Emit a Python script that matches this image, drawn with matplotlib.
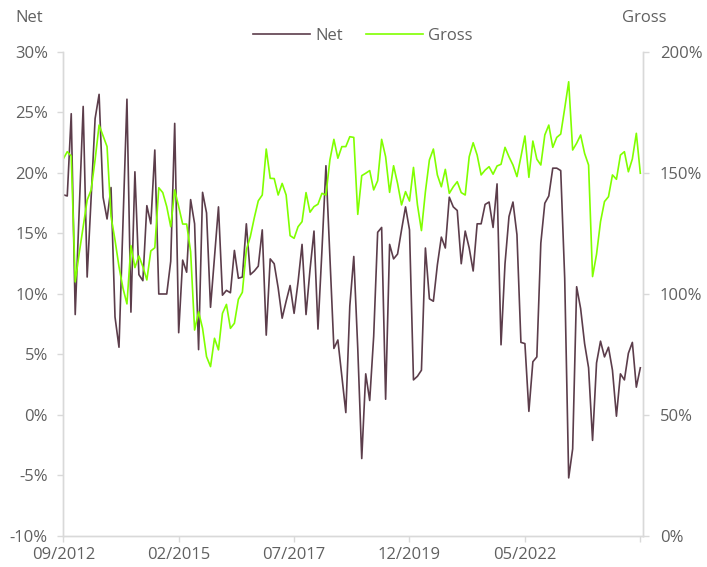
import matplotlib
matplotlib.use("Agg")
import matplotlib.pyplot as plt
from matplotlib.ticker import FuncFormatter, MultipleLocator
import numpy as np
import pandas as pd

# monthly data, 09/2012 - 10/2024
dates = pd.date_range("2012-09-01", periods=146, freq="MS")

net = [18.2, 18.1, 24.9, 8.3, 16.9, 25.5, 11.4, 18.0, 24.5, 26.5,
       18.0, 16.2, 18.8, 8.1, 5.6, 15.8, 26.1, 8.5, 20.1, 11.6,
       11.1, 17.3, 15.8, 21.9, 10.0, 10.0, 10.0, 12.7, 24.1, 6.8,
       12.8, 11.8, 17.8, 15.8, 5.4, 18.4, 16.7, 8.9, 13.0, 17.2,
       9.9, 10.3, 10.1, 13.6, 11.3, 11.4, 15.8, 11.6, 11.9, 12.3,
       15.3, 6.6, 12.9, 12.5, 10.5, 8.0, 9.4, 10.7, 8.4, 11.0,
       14.1, 8.3, 12.0, 15.2, 7.1, 13.6, 20.6, 13.0, 5.5, 6.2,
       3.2, 0.2, 9.0, 13.1, 5.5, -3.6, 3.4, 1.2, 6.5, 15.1,
       15.5, 1.3, 14.1, 12.9, 13.3, 15.3, 17.2, 15.3, 2.9, 3.2,
       3.7, 13.8, 9.6, 9.4, 12.4, 14.7, 13.8, 18.0, 17.2, 16.9,
       12.5, 15.2, 13.8, 11.9, 15.8, 15.8, 17.4, 17.6, 15.5, 19.1,
       5.8, 12.5, 16.4, 17.6, 14.9, 6.0, 5.9, 0.3, 4.4, 4.8,
       14.2, 17.5, 18.1, 20.4, 20.4, 20.2, 11.3, -5.2, -2.8, 10.6,
       8.8, 5.9, 3.9, -2.1, 4.3, 6.1, 4.8, 5.6, 3.7, -0.1,
       3.4, 2.9, 5.1, 6.0, 2.3, 3.9]

gross = [155.8, 158.8, 157.0, 105.0, 116.8, 127.8, 138.8, 143.0, 155.5, 169.8,
         165.3, 160.9, 132.0, 122.3, 111.3, 102.4, 95.9, 120.0, 110.9, 115.7,
         111.3, 105.8, 117.8, 119.1, 143.9, 141.9, 136.1, 127.8, 143.0, 136.1,
         128.9, 128.9, 117.5, 85.1, 92.7, 85.8, 74.1, 70.0, 81.7, 76.9,
         92.0, 95.7, 85.8, 87.9, 97.8, 100.7, 118.2, 123.7, 131.5, 138.5,
         140.9, 159.9, 147.8, 147.7, 140.9, 145.7, 140.9, 124.1, 123.0, 127.8,
         129.9, 141.9, 133.8, 136.1, 137.1, 141.6, 140.9, 155.4, 163.9, 156.1,
         160.9, 160.9, 165.0, 164.7, 132.9, 148.9, 149.9, 151.0, 143.0, 146.8,
         163.9, 156.7, 142.0, 153.0, 145.7, 136.8, 142.3, 138.4, 152.3, 136.8,
         126.2, 142.3, 155.4, 159.9, 149.2, 144.3, 151.5, 141.6, 144.3, 146.4,
         141.9, 140.9, 156.7, 162.5, 157.4, 149.2, 151.2, 152.6, 149.5, 152.9,
         153.6, 160.6, 156.7, 153.3, 148.5, 156.7, 165.3, 148.2, 163.2, 155.7,
         153.3, 165.7, 169.8, 160.6, 164.7, 166.1, 176.7, 187.7, 159.5, 162.3,
         165.7, 158.1, 153.3, 107.2, 116.4, 129.9, 138.2, 140.2, 149.2, 147.4,
         157.4, 158.8, 150.5, 155.8, 166.4, 149.9]

plt.rcParams["font.family"] = ["Open Sans", "DejaVu Sans"]
text_col = "#606060"
axis_col = "#d9d9d9"
net_col = "#5c3d4b"
gross_col = "#80ff00"

x = np.arange(len(dates))
tick_idx = np.arange(0, len(dates), 29)
# the last tick carries no label in the original
tick_labels = [dates[i].strftime("%m/%Y") for i in tick_idx[:-1]] + [""]

fig = plt.figure(figsize=(7.07, 5.67), dpi=100)
ax = fig.add_axes([0.0895, 0.0547, 0.8204, 0.8536])
ax2 = ax.twinx()

l1, = ax.plot(x, net, color=net_col, lw=1.2, label="Net")
l2, = ax2.plot(x, gross, color=gross_col, lw=1.2, label="Gross")

ax.set_xlim(0, 145.75)
ax.set_ylim(-10, 30)
ax2.set_ylim(0, 200)
ax.yaxis.set_major_locator(MultipleLocator(5))
ax2.yaxis.set_major_locator(MultipleLocator(50))
pct = FuncFormatter(lambda v, p: f"{v:.0f}%")
ax.yaxis.set_major_formatter(pct)
ax2.yaxis.set_major_formatter(pct)
ax.set_xticks(tick_idx)
ax.set_xticklabels(tick_labels)

for a in (ax, ax2):
    a.spines["top"].set_visible(False)
    for s in ("left", "right", "bottom"):
        a.spines[s].set_color(axis_col)
        a.spines[s].set_linewidth(1.0)
    a.tick_params(colors=axis_col, labelcolor=text_col, labelsize=12,
                  length=4, width=1)
ax.tick_params(axis="y", pad=7)
ax.tick_params(axis="x", pad=4)
ax2.tick_params(axis="y", pad=8)

fig.text(0.041, 0.968, "Net", color=text_col, fontsize=12, ha="center", va="center")
fig.text(0.911, 0.968, "Gross", color=text_col, fontsize=12, ha="center", va="center")

fig.legend(handles=[l1, l2], loc="center", bbox_to_anchor=(0.513, 0.936),
           ncol=2, frameon=False, fontsize=12, labelcolor=text_col,
           handlelength=3.4, handletextpad=0.3, columnspacing=1.4)

fig.savefig("out.png", dpi=100)
